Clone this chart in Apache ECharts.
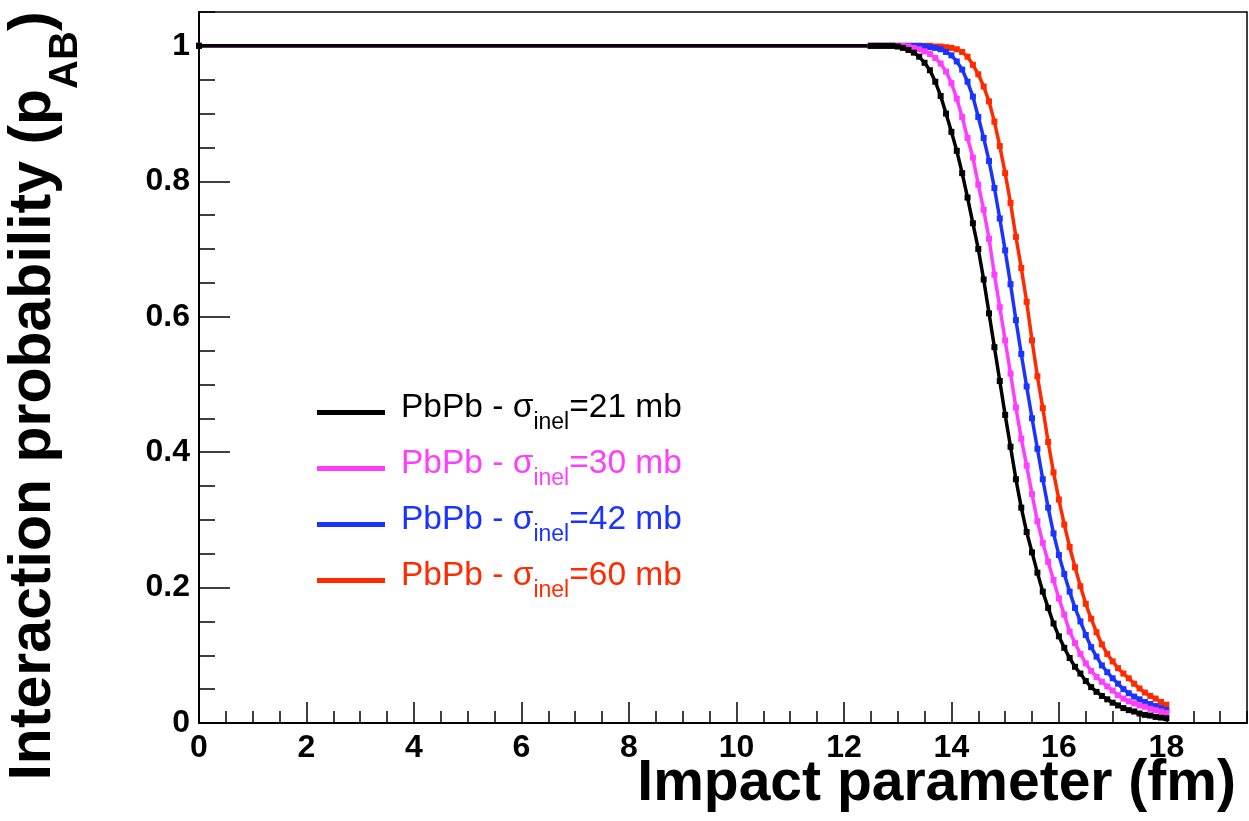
<!DOCTYPE html>
<html>
<head>
<meta charset="utf-8">
<title>Interaction probability vs impact parameter</title>
<script src="https://cdn.jsdelivr.net/npm/echarts@6/dist/echarts.min.js"></script>
<style>
  html, body { margin: 0; padding: 0; background: #ffffff; }
  #chart { width: 1249px; height: 821px; }
</style>
</head>
<body>
<div id="chart"></div>
<script>
// Impact parameter grid (fm): plateau start, then the fall-off region
const impactB = [0,
  12.5, 12.6, 12.7, 12.8, 12.9,
  13.0, 13.1, 13.2, 13.3, 13.4, 13.5, 13.6, 13.7, 13.8, 13.9,
  14.0, 14.1, 14.2, 14.3, 14.4, 14.5, 14.6, 14.7, 14.8, 14.9,
  15.0, 15.1, 15.2, 15.3, 15.4, 15.5, 15.6, 15.7, 15.8, 15.9,
  16.0, 16.1, 16.2, 16.3, 16.4, 16.5, 16.6, 16.7, 16.8, 16.9,
  17.0, 17.1, 17.2, 17.3, 17.4, 17.5, 17.6, 17.7, 17.8, 17.9,
  18.0];

// Interaction probability p_AB for each inelastic cross-section
const pSigma21 = [1,
  1, 1, 1, 1, 1,
  0.999, 0.997, 0.994, 0.990, 0.984, 0.975, 0.964, 0.947, 0.926, 0.900,
  0.873, 0.845, 0.812, 0.776, 0.738, 0.700, 0.655, 0.605, 0.555, 0.505,
  0.455, 0.408, 0.360, 0.318, 0.282, 0.252, 0.222, 0.194, 0.170, 0.147,
  0.128, 0.111, 0.096, 0.083, 0.073, 0.062, 0.053, 0.046, 0.040, 0.035,
  0.030, 0.026, 0.022, 0.019, 0.017, 0.014, 0.012, 0.011, 0.009, 0.008,
  0.007];
const pSigma30 = [1,
  1, 1, 1, 1, 1,
  1, 1, 0.999, 0.997, 0.995, 0.992, 0.988, 0.982, 0.974, 0.962,
  0.945, 0.922, 0.895, 0.864, 0.835, 0.795, 0.758, 0.715, 0.662, 0.614,
  0.565, 0.516, 0.466, 0.420, 0.380, 0.338, 0.298, 0.266, 0.238, 0.211,
  0.184, 0.160, 0.135, 0.118, 0.102, 0.088, 0.077, 0.068, 0.061, 0.054,
  0.048, 0.041, 0.036, 0.032, 0.029, 0.026, 0.024, 0.021, 0.019, 0.017,
  0.015];
const pSigma42 = [1,
  1, 1, 1, 1, 1,
  1, 1, 1, 1, 1, 0.999, 0.998, 0.997, 0.995, 0.991,
  0.986, 0.977, 0.965, 0.947, 0.925, 0.895, 0.864, 0.830, 0.790, 0.745,
  0.698, 0.648, 0.595, 0.545, 0.497, 0.450, 0.405, 0.360, 0.318, 0.280,
  0.248, 0.220, 0.194, 0.170, 0.150, 0.130, 0.112, 0.098, 0.085, 0.075,
  0.066, 0.058, 0.050, 0.044, 0.039, 0.035, 0.031, 0.028, 0.025, 0.022,
  0.019];
const pSigma60 = [1,
  1, 1, 1, 1, 1,
  1, 1, 1, 1, 1, 1, 1, 0.999, 0.999, 0.998,
  0.997, 0.995, 0.991, 0.984, 0.972, 0.958, 0.940, 0.918, 0.888, 0.852,
  0.812, 0.768, 0.718, 0.672, 0.622, 0.565, 0.512, 0.465, 0.415, 0.370,
  0.330, 0.293, 0.260, 0.230, 0.202, 0.176, 0.154, 0.134, 0.116, 0.102,
  0.091, 0.081, 0.073, 0.066, 0.058, 0.051, 0.045, 0.040, 0.036, 0.031,
  0.027];

const seriesNames = [
  'PbPb - σ_inel=21 mb',
  'PbPb - σ_inel=30 mb',
  'PbPb - σ_inel=42 mb',
  'PbPb - σ_inel=60 mb'
];
const seriesColors = ['#000000', '#ff3dff', '#1a33ff', '#ff2a00'];
const seriesValues = [pSigma21, pSigma30, pSigma42, pSigma60];

const xTicks = { min: 0, max: 19.5, major: 2, minor: 0.5 };
const yTicks = { min: 0, max: 1.05, major: 0.2, minor: 0.05 };

const FONT = '"Liberation Sans", Arial, Helvetica, sans-serif';

function pairs(xs, ys) {
  return xs.map((x, i) => [x, ys[i]]);
}

// draw the largest cross-section first so the black curve ends up on top
const drawOrder = [3, 2, 1, 0];
const series = drawOrder.map(i => ({
  name: seriesNames[i],
  type: 'line',
  xAxisIndex: 0,
  yAxisIndex: 0,
  data: pairs(impactB, seriesValues[i]),
  symbol: 'rect',
  symbolSize: 6,
  showAllSymbol: true,
  lineStyle: { color: seriesColors[i], width: 3.5 },
  itemStyle: { color: seriesColors[i] },
  emphasis: { disabled: true },
  animation: false,
  clip: true
}));

// "σ_inel" in a name becomes σ with a subscript in the legend
function legendLabel(name) {
  const parts = name.split('_inel');
  return '{g| }{m|' + parts[0] + '}{s|inel}{m|' + parts[1] + '}';
}

const axisCommon = {
  type: 'value',
  splitLine: { show: false },
  axisLine: { show: true, lineStyle: { color: '#000', width: 2 } }
};

const chart = echarts.init(document.getElementById('chart'), null, { renderer: 'canvas' });
chart.setOption({
  backgroundColor: '#ffffff',
  animation: false,
  textStyle: { fontFamily: FONT },
  grid: {
    left: 199, top: 12, width: 1048, height: 711,
    show: true, borderColor: '#000', borderWidth: 1.5, backgroundColor: 'transparent'
  },
  xAxis: [
    Object.assign({}, axisCommon, {
      position: 'bottom',
      min: xTicks.min, max: xTicks.max, interval: xTicks.major,
      axisTick: { show: true, inside: true, length: 21, lineStyle: { color: '#000', width: 1.5 } },
      axisLabel: { show: true, showMaxLabel: false, margin: 9, color: '#000',
                   fontSize: 32, fontWeight: 'bold', fontFamily: FONT }
    }),
    Object.assign({}, axisCommon, {
      position: 'bottom',
      min: xTicks.min, max: xTicks.max, interval: xTicks.minor,
      axisLine: { show: false },
      axisTick: { show: true, inside: true, length: 12, lineStyle: { color: '#000', width: 1.5 } },
      axisLabel: { show: false }
    })
  ],
  yAxis: [
    Object.assign({}, axisCommon, {
      position: 'left',
      min: yTicks.min, max: yTicks.max, interval: yTicks.major,
      axisTick: { show: true, inside: true, length: 31, lineStyle: { color: '#000', width: 1.5 } },
      axisLabel: { show: true, showMaxLabel: false, margin: 9, color: '#000',
                   fontSize: 32, fontWeight: 'bold', fontFamily: FONT }
    }),
    Object.assign({}, axisCommon, {
      position: 'left',
      min: yTicks.min, max: yTicks.max, interval: yTicks.minor,
      axisLine: { show: false },
      axisTick: { show: true, inside: true, length: 16, lineStyle: { color: '#000', width: 1.5 } },
      axisLabel: { show: false }
    })
  ],
  legend: {
    show: true,
    orient: 'vertical',
    left: 317,
    top: 391,
    padding: 0,
    itemGap: 13,
    itemWidth: 68,
    itemHeight: 5,
    icon: 'rect',
    selectedMode: false,
    data: [0, 1, 2, 3].map(i => ({
      name: seriesNames[i],
      itemStyle: { color: seriesColors[i] },
      textStyle: { color: seriesColors[i] }
    })),
    formatter: legendLabel,
    textStyle: {
      fontFamily: FONT,
      rich: {
        g: { width: 11, fontSize: 10, lineHeight: 43 },
        m: { fontSize: 33.5, fontFamily: FONT, lineHeight: 43, verticalAlign: 'top' },
        s: { fontSize: 23, fontFamily: FONT, lineHeight: 43, verticalAlign: 'bottom' }
      }
    }
  },
  graphic: [
    {
      type: 'text',
      right: 13,
      top: 756,
      style: {
        text: 'Impact parameter (fm)',
        fontSize: 57, fontWeight: 'bold', fontFamily: FONT, fill: '#000'
      }
    },
    {
      type: 'text',
      x: 45,
      y: 396,
      rotation: Math.PI / 2,
      style: {
        text: '{t|Interaction probability (p}{s|AB}{t|)}',
        align: 'center',
        verticalAlign: 'middle',
        fontFamily: FONT,
        fill: '#000',
        rich: {
          t: { fontSize: 59, fontWeight: 'bold', fontFamily: FONT, lineHeight: 82, verticalAlign: 'top' },
          s: { fontSize: 40, fontWeight: 'bold', fontFamily: FONT, lineHeight: 82, verticalAlign: 'bottom' }
        }
      }
    }
  ],
  series: series
});
</script>
</body>
</html>
